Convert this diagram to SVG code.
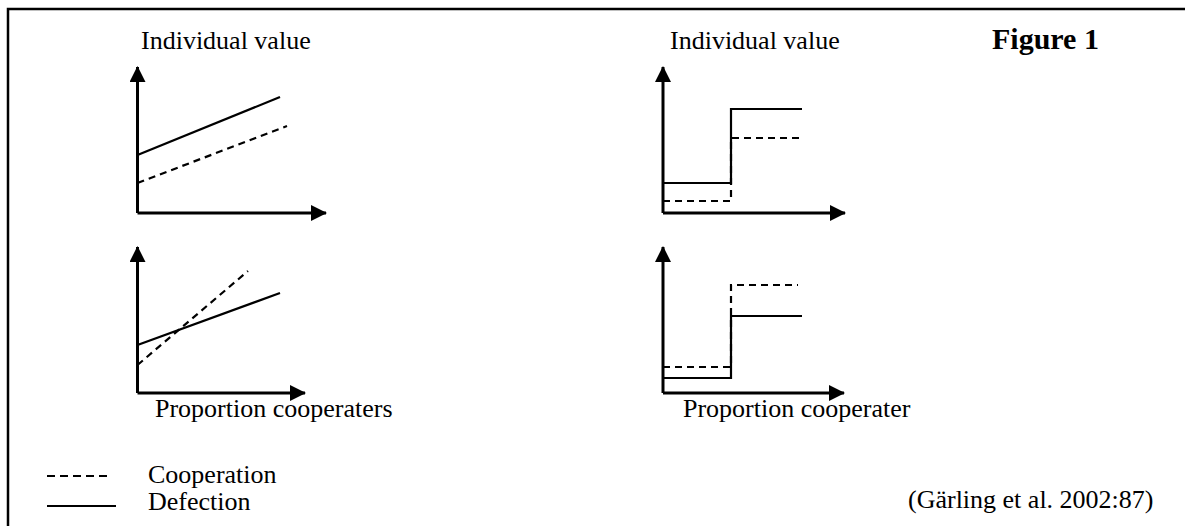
<svg xmlns="http://www.w3.org/2000/svg" width="1185" height="526" viewBox="0 0 1185 526">
<defs>
<marker id="ah" markerUnits="userSpaceOnUse" markerWidth="18" markerHeight="18" refX="15" refY="8" orient="auto">
<path d="M0,0 L16,8 L0,16 Z" fill="#000"/>
</marker>
<style>
.t{font-family:"Liberation Serif","Times New Roman",serif;font-size:26px;fill:#000}
.b{font-family:"Liberation Serif","Times New Roman",serif;font-size:30px;font-weight:bold;fill:#000}
.ax{stroke:#000;stroke-width:3;fill:none}
.sol{stroke:#000;stroke-width:2.2;fill:none}
.dsh{stroke:#000;stroke-width:2.2;fill:none;stroke-dasharray:7,5}
</style>
</defs>
<rect width="1185" height="526" fill="#fff"/>
<path d="M8,526 V9 H1185" stroke="#000" stroke-width="2.5" fill="none"/>
<text class="t" x="141" y="49">Individual value</text>
<text class="t" x="670" y="49">Individual value</text>
<text class="b" x="992" y="49">Figure 1</text>
<text class="t" x="155" y="417">Proportion cooperaters</text>
<text class="t" x="683" y="417">Proportion cooperater</text>
<g id="chart-tl">
<path class="ax" d="M137.5,213 V67" marker-end="url(#ah)"/>
<path class="ax" d="M137.5,213 H326" marker-end="url(#ah)"/>
<path class="sol" d="M137.5,155 L280,97"/>
<path class="dsh" d="M137.5,183 L287,126"/>
</g>
<g id="chart-tr">
<path class="ax" d="M663,213 V67" marker-end="url(#ah)"/>
<path class="ax" d="M663,213 H845" marker-end="url(#ah)"/>
<path class="sol" d="M663,183 H731 V109 H802"/>
<path class="dsh" d="M663,201 H731 V138 H802"/>
</g>
<g id="chart-bl">
<path class="ax" d="M137.5,393 V247" marker-end="url(#ah)"/>
<path class="ax" d="M137.5,393 H305" marker-end="url(#ah)"/>
<path class="sol" d="M137.5,345 L280,293"/>
<path class="dsh" d="M137.5,365 L248,271"/>
</g>
<g id="chart-br">
<path class="ax" d="M663,393 V247" marker-end="url(#ah)"/>
<path class="ax" d="M663,393 H844" marker-end="url(#ah)"/>
<path class="sol" d="M663,378 H731 V316 H802"/>
<path class="dsh" d="M663,367 H731 V285 H798"/>
</g>
<g id="legend">
<path stroke="#000" stroke-width="2" stroke-dasharray="8,5" d="M47,476 H112"/>
<text class="t" x="148" y="483">Cooperation</text>
<path stroke="#000" stroke-width="2.2" d="M47,506 H116"/>
<text class="t" x="148" y="510">Defection</text>
</g>
<text class="t" x="908" y="508">(Gärling et al. 2002:87)</text>
</svg>
